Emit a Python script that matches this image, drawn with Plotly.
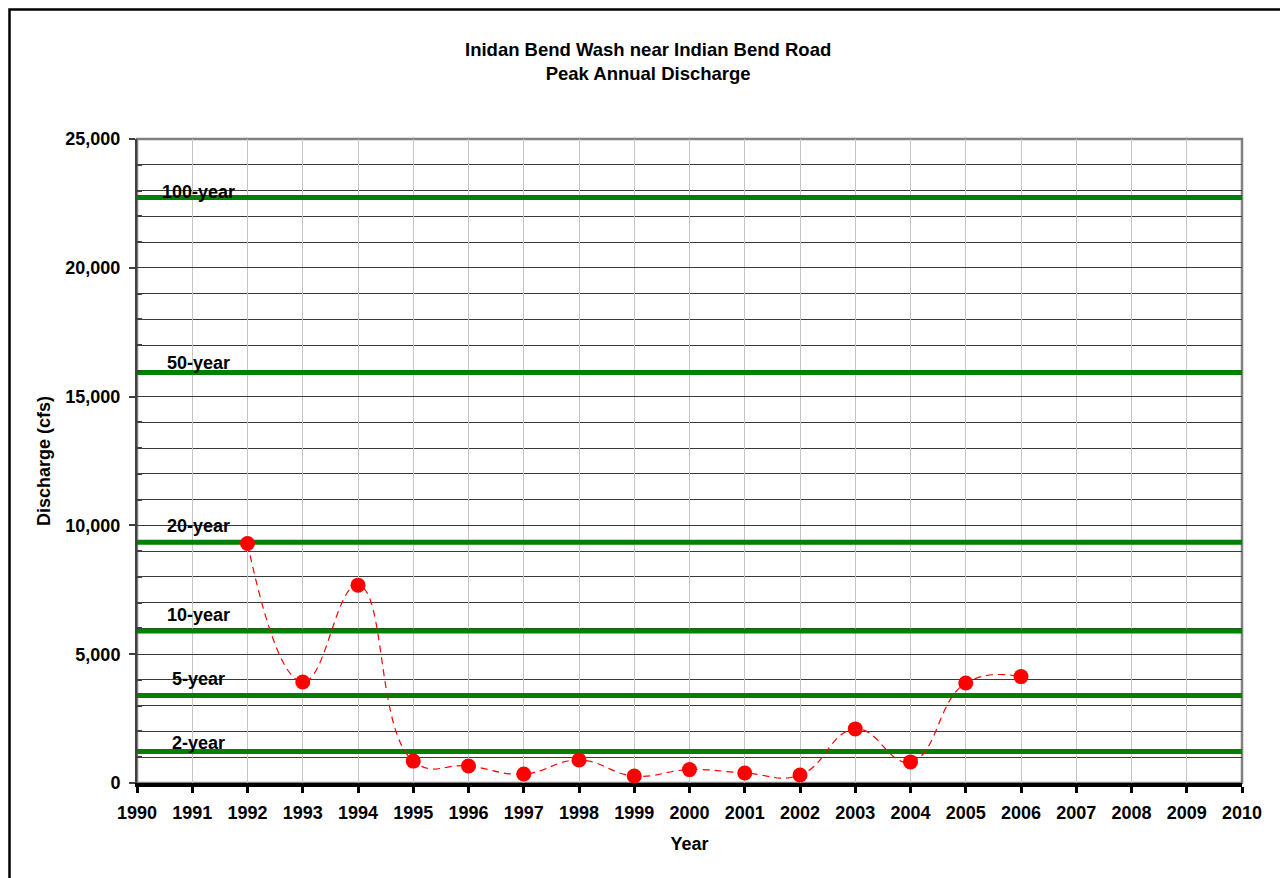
import plotly.graph_objects as go

# ---- data ----
years = [1992, 1993, 1994, 1995, 1996, 1997, 1998, 1999, 2000, 2001, 2002, 2003, 2004, 2005, 2006]
peak_discharge = [9300, 3920, 7680, 850, 660, 350, 890, 270, 520, 390, 310, 2100, 820, 3880, 4130]

return_periods = ["100-year", "50-year", "20-year", "10-year", "5-year", "2-year"]
return_discharge = [22730, 15940, 9350, 5900, 3400, 1220]
label_yshift = [5, 9, 16, 16, 16, 9]

x_ticks = list(range(1990, 2011))
y_ticks = [0, 5000, 10000, 15000, 20000, 25000]

FONT = "Arial, Liberation Sans, sans-serif"
GREEN = "#008000"
W, H = 1288, 878
ML, MR, MT, MB = 129, 54, 131, 103
PW, PH = W - ML - MR, H - MT - MB

fig = go.Figure()

for name, q in zip(return_periods, return_discharge):
    fig.add_trace(go.Scatter(
        x=[x_ticks[0], x_ticks[-1]], y=[q, q], mode="lines",
        line=dict(color=GREEN, width=5), showlegend=False, hoverinfo="skip",
        cliponaxis=False,
    ))

fig.add_trace(go.Scatter(
    x=years, y=peak_discharge, mode="lines+markers",
    line=dict(color="#ff0000", width=1.2, dash="7px,5px", shape="spline", smoothing=1.3),
    marker=dict(color="#ff0000", size=15),
    showlegend=False, cliponaxis=False,
))

for name, q, ys in zip(return_periods, return_discharge, label_yshift):
    fig.add_annotation(
        x=1991.12, y=q, xref="x", yref="y", text="<b>%s</b>" % name,
        showarrow=False, xanchor="center", yanchor="middle", yshift=ys,
        font=dict(family=FONT, size=18, color="#000"),
    )

fig.update_layout(
    title=dict(
        text="<b>Inidan Bend Wash near Indian Bend Road<br>Peak Annual Discharge</b>",
        x=0.497, xref="container", xanchor="center", y=1 - 48 / H, yref="container", yanchor="top",
        font=dict(family=FONT, size=18.5, color="#000"),
    )
)

# plot-area border (gray) and outer figure frame (black)
fig.add_shape(type="rect", xref="paper", yref="paper", x0=0, x1=1, y0=0, y1=1,
              line=dict(color="#808080", width=2.5), layer="below")
fig.add_shape(type="rect", xref="paper", yref="paper",
              x0=(1.5 - ML) / PW, x1=(1279 - ML) / PW,
              y0=(PH + MT - 920) / PH, y1=(PH + MT - 1.5) / PH,
              line=dict(color="#000", width=2.5), layer="above")

fig.update_layout(
    width=W, height=H,
    margin=dict(l=ML, r=MR, t=MT, b=MB),
    paper_bgcolor="white", plot_bgcolor="white",
    font=dict(family=FONT, size=18, color="#000"),
    xaxis=dict(
        range=[1990, 2010], tickvals=x_ticks, ticktext=["<b>%d</b>" % v for v in x_ticks],
        showgrid=True, gridcolor="#c4c4c4", gridwidth=1,
        showline=True, linecolor="#000", linewidth=3.5,
        ticks="outside", ticklen=6, tickwidth=3, tickcolor="#000",
        ticklabelstandoff=5,
        tickfont=dict(family=FONT, size=18, color="#000"),
        title=dict(text="<b>Year</b>", font=dict(family=FONT, size=18, color="#000"), standoff=16),
        zeroline=False,
    ),
    yaxis=dict(
        range=[0, 25000], tickvals=y_ticks,
        ticktext=["<b>{:,}</b>".format(v) for v in y_ticks],
        showgrid=True, gridcolor="#3a3a3a", gridwidth=1,
        minor=dict(tickvals=[v for v in range(0, 25001, 1000) if v % 5000], showgrid=True,
                   gridcolor="#3a3a3a", gridwidth=1, ticks="inside", ticklen=5, tickcolor="#404040"),
        showline=True, linecolor="#404040", linewidth=2,
        ticks="outside", ticklen=6, tickwidth=1.5, tickcolor="#404040",
        ticklabelstandoff=5,
        tickfont=dict(family=FONT, size=18, color="#000"),
        title=dict(text="<b>Discharge (cfs)</b>", font=dict(family=FONT, size=18, color="#000"), standoff=10),
        zeroline=False,
    ),
)

fig.write_html("out.html")
